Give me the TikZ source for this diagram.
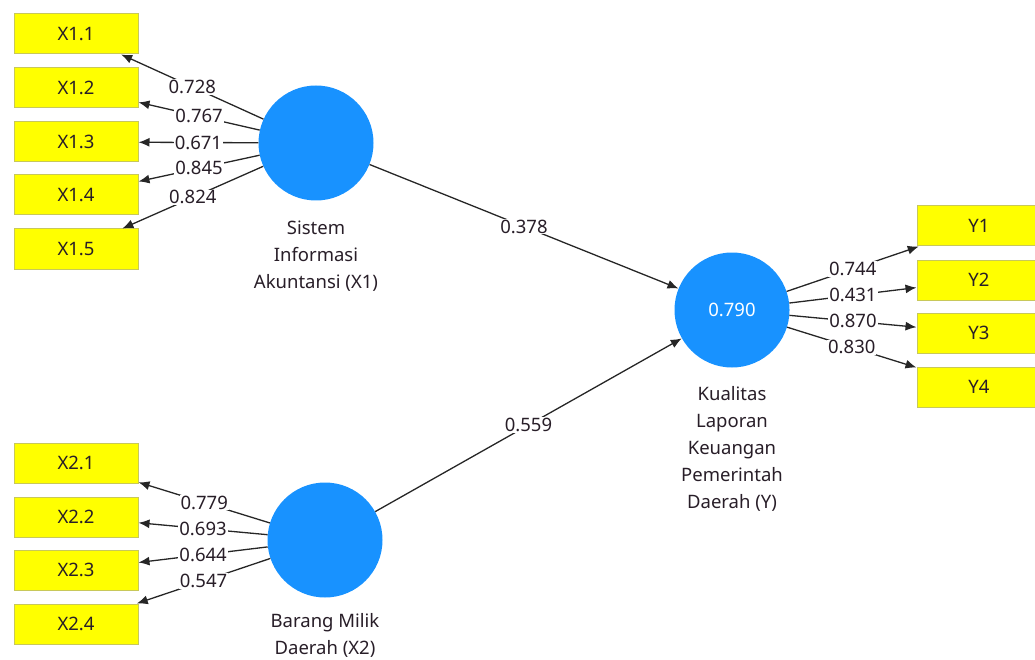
\documentclass[tikz,border=0pt]{standalone}
\usepackage{fontspec}
\setmainfont{Noto Sans}
\usetikzlibrary{arrows.meta}
\definecolor{lvblue}{RGB}{24,146,255}
\definecolor{mvyellow}{RGB}{255,255,0}
\definecolor{mvborder}{RGB}{200,200,90}
\definecolor{txtdark}{RGB}{40,30,40}
\begin{document}
\begin{tikzpicture}[x=1pt,y=-1pt,
  font=\fontsize{18.5}{27}\selectfont,text=txtdark,
  ind/.style={rectangle,draw=mvborder,line width=1pt,fill=mvyellow,minimum width=124pt,minimum height=40pt,inner sep=0},
  lv/.style={circle,fill=lvblue,minimum size=115pt,inner sep=0},
  load/.style={-{Latex[length=11pt,width=9pt]},draw=black!85,line width=1.3pt},
  coef/.style={fill=white,inner sep=1pt,pos=0.5}]
\useasboundingbox (0,0) rectangle (1035,660);
\clip (0,0) rectangle (1035,660);
% latent variables
\draw (316,143) node[lv] (X1) {};
\draw (325,540) node[lv] (X2) {};
\draw (732,310) node[lv] (Y) {};
\draw (Y) node[text=white] {0.790};
\draw (316,256) node[align=center] (X1lab) {Sistem\\Informasi\\Akuntansi (X1)};
\draw (325,635) node[align=center] (X2lab) {Barang Milik\\Daerah (X2)};
\draw (732,449) node[align=center] (Ylab) {Kualitas\\Laporan\\Keuangan\\Pemerintah\\Daerah (Y)};
% indicators
\draw (76,34) node[ind] (X11) {X1.1};
\draw (76,88) node[ind] (X12) {X1.2};
\draw (76,142) node[ind] (X13) {X1.3};
\draw (76,195) node[ind] (X14) {X1.4};
\draw (76,249) node[ind] (X15) {X1.5};
\draw (76,463) node[ind] (X21) {X2.1};
\draw (76,517) node[ind] (X22) {X2.2};
\draw (76,570) node[ind] (X23) {X2.3};
\draw (76,624) node[ind] (X24) {X2.4};
\draw (979,226) node[ind] (Y1) {Y1};
\draw (979,280) node[ind] (Y2) {Y2};
\draw (979,333) node[ind] (Y3) {Y3};
\draw (979,387) node[ind] (Y4) {Y4};
% outer loadings
\draw[load] (X1) -- node[coef] {0.728} (X11);
\draw[load] (X1) -- node[coef] {0.767} (X12);
\draw[load] (X1) -- node[coef] {0.671} (X13);
\draw[load] (X1) -- node[coef] {0.845} (X14);
\draw[load] (X1) -- node[coef] {0.824} (X15);
\draw[load] (X2) -- node[coef] {0.779} (X21);
\draw[load] (X2) -- node[coef] {0.693} (X22);
\draw[load] (X2) -- node[coef] {0.644} (X23);
\draw[load] (X2) -- node[coef] {0.547} (X24);
\draw[load] (Y) -- node[coef] {0.744} (Y1);
\draw[load] (Y) -- node[coef] {0.431} (Y2);
\draw[load] (Y) -- node[coef] {0.870} (Y3);
\draw[load] (Y) -- node[coef] {0.830} (Y4);
% path coefficients
\draw[load] (X1) -- node[coef] {0.378} (Y);
\draw[load] (X2) -- node[coef] {0.559} (Y);
\end{tikzpicture}
\end{document}
